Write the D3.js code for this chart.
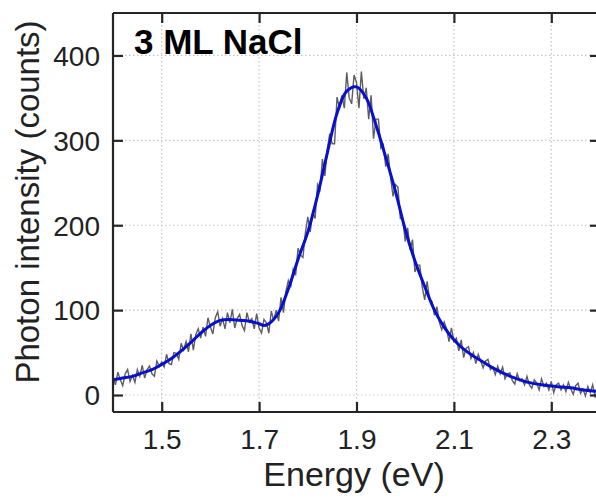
<!DOCTYPE html>
<html>
<head>
<meta charset="utf-8">
<script src="https://cdn.jsdelivr.net/npm/d3@7"></script>
<style>
  html, body { margin: 0; padding: 0; background: #fff; }
  svg { display: block; }
  text { font-family: "Liberation Sans", Arial, Helvetica, sans-serif; fill: #222; }
</style>
</head>
<body>
<svg id="chart" width="596" height="498"></svg>
<script>
// ---- Data ----
const title = "3 ML NaCl";
const xLabel = "Energy (eV)";
const yLabel = "Photon intensity (counts)";
const xTicks = [1.5, 1.7, 1.9, 2.1, 2.3];
const yTicks = [0, 100, 200, 300, 400];
const xDomain = [1.4, 2.4];
const yDomain = [-20, 450];

// raw spectrum: energy start/step and counts
const rawStart = 1.4;
const rawStep = 0.005;
const rawCounts = [
  22,12,27,18,11,25,30,16,23,15,30,22,35,20,30,34,25,22,40,34,
  39,33,48,37,36,50,49,42,61,53,63,51,72,53,71,78,67,80,69,91,
  80,72,91,98,81,90,78,97,85,101,79,90,95,82,76,97,86,90,78,96,
  79,73,89,85,73,99,88,100,87,115,97,122,135,127,148,141,173,165,162,191,
  210,192,215,208,248,242,278,258,289,308,296,296,351,338,353,338,380,350,343,377,
  368,338,381,349,362,325,353,302,325,325,291,295,269,284,257,234,248,245,208,208,
  181,197,171,183,145,153,153,127,112,134,113,110,94,104,86,77,86,78,63,79,
  63,67,52,65,44,55,57,43,50,37,48,40,32,40,42,30,33,24,34,25,
  33,19,25,26,17,13,25,17,19,12,22,12,8,18,14,6,19,10,14,6,
  16,3,12,14,6,12,4,15,7,1,11,14,2,7,-1,10,3,12,-2,5,8
];

// smoothed fit (blue line)
const fitEnergy = [1.40,1.42,1.44,1.46,1.48,1.50,1.52,1.54,1.56,1.58,1.60,1.62,1.64,1.66,1.68,1.70,1.71,1.72,1.74,1.76,1.78,1.80,1.82,1.84,1.86,1.88,1.90,1.92,1.94,1.96,1.98,2.00,2.02,2.04,2.06,2.08,2.10,2.12,2.14,2.16,2.18,2.20,2.22,2.24,2.26,2.28,2.30,2.32,2.34,2.36,2.38,2.40];
const fitCounts = [18,20,22,26,30,36,43,52,62,73,82,88,89,88,87,84,82,84,97,125,160,192,235,285,332,358,363,350,318,280,240,195,158,128,100,80,65,54,46,39,32,26,21,17,14,12,10.5,9.5,8.5,6.5,5,4];

// ---- Layout ----
const svg = d3.select("#chart");
const margin = { left: 113, top: 13 };
const plotW = 487, plotH = 399;

const x = d3.scaleLinear().domain(xDomain).range([margin.left, margin.left + plotW]);
const y = d3.scaleLinear().domain(yDomain).range([margin.top + plotH, margin.top]);

svg.append("defs").append("clipPath").attr("id", "clip")
  .append("rect").attr("x", margin.left).attr("y", margin.top)
  .attr("width", plotW).attr("height", plotH);

// grid
const grid = svg.append("g").attr("class", "grid");
grid.selectAll("line.gx").data(xTicks).join("line").attr("class", "gx")
  .attr("x1", d => x(d)).attr("x2", d => x(d))
  .attr("y1", margin.top).attr("y2", margin.top + plotH)
  .attr("stroke", "#c4c4c4").attr("stroke-width", 1.2).attr("stroke-dasharray", "1.5,2.5");
grid.selectAll("line.gy").data(yTicks).join("line").attr("class", "gy")
  .attr("x1", margin.left).attr("x2", margin.left + plotW)
  .attr("y1", d => y(d)).attr("y2", d => y(d))
  .attr("stroke", "#c4c4c4").attr("stroke-width", 1.2).attr("stroke-dasharray", "1.5,2.5");

// data
const raw = rawCounts.map((v, i) => [rawStart + i * rawStep, v]);
const fit = fitEnergy.map((e, i) => [e, fitCounts[i]]);

const g = svg.append("g").attr("clip-path", "url(#clip)");
g.append("path").datum(raw)
  .attr("d", d3.line().x(d => x(d[0])).y(d => y(d[1])))
  .attr("fill", "none").attr("stroke", "#5e5e5e").attr("stroke-width", 1.4);
g.append("path").datum(fit)
  .attr("d", d3.line().x(d => x(d[0])).y(d => y(d[1])).curve(d3.curveCatmullRom))
  .attr("fill", "none").attr("stroke", "#0810d0").attr("stroke-width", 3)
  .attr("stroke-linejoin", "round");

// axes
const tickLen = 10;
const axColor = "#262626";
const axBottom = svg.append("g").attr("transform", `translate(0,${margin.top + plotH})`)
  .call(d3.axisBottom(x).tickValues(xTicks).tickSize(-tickLen).tickPadding(17).tickFormat(d3.format(".1f")));
const axTop = svg.append("g").attr("transform", `translate(0,${margin.top})`)
  .call(d3.axisTop(x).tickValues(xTicks).tickSize(-tickLen).tickFormat(""));
const axLeft = svg.append("g").attr("transform", `translate(${margin.left},0)`)
  .call(d3.axisLeft(y).tickValues(yTicks).tickSize(-tickLen).tickPadding(13).tickFormat(d3.format("d")));
const axRight = svg.append("g").attr("transform", `translate(${margin.left + plotW},0)`)
  .call(d3.axisRight(y).tickValues(yTicks).tickSize(-tickLen).tickFormat(""));

const axes = [axBottom, axTop, axLeft, axRight];
axes.forEach((a, i) => {
  a.selectAll(".tick line").attr("stroke", axColor).attr("stroke-width", 2.2);
  a.selectAll(".tick text").attr("font-size", 28).attr("fill", "#222")
    .style("font-family", '"Liberation Sans", Arial, sans-serif');
  const dom = a.select(".domain").attr("stroke", axColor).attr("stroke-width", 2.2);
  if (i < 2) dom.attr("d", `M${margin.left},0H${margin.left + plotW}`);
  else dom.attr("d", `M0,${margin.top}V${margin.top + plotH}`);
});
axLeft.selectAll(".tick text").attr("dy", "0.35em");
axBottom.selectAll(".tick text").attr("dy", "0.71em");

// labels
svg.append("text").attr("x", 354).attr("y", 486)
  .attr("text-anchor", "middle").attr("font-size", 34).text(xLabel);
svg.append("text").attr("transform", "translate(39,202) rotate(-90)")
  .attr("text-anchor", "middle").attr("font-size", 33).text(yLabel);
svg.append("text").attr("x", 134).attr("y", 54)
  .attr("font-size", 35).attr("font-weight", "bold").style("fill", "#000").text(title);
</script>
</body>
</html>
